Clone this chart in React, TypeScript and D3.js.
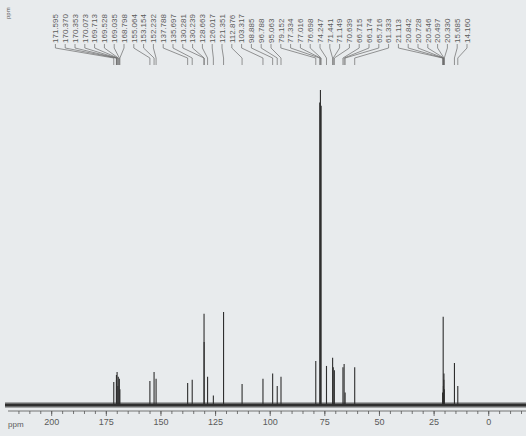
import React from "react";
import * as d3 from "d3";

// Peak positions (ppm) as labelled on the spectrum
const peakPpm = [
  171.595, 170.37, 170.353, 170.073, 169.713, 169.528, 169.035, 168.798,
  155.064, 153.154, 152.232, 137.788, 135.697, 130.281, 130.239, 128.663,
  126.017, 121.351, 112.876, 103.317, 98.885, 96.788, 95.063, 79.152,
  77.334, 77.016, 76.698, 74.247, 71.441, 71.149, 70.639, 66.715, 66.174,
  65.716, 61.333, 21.113, 20.842, 20.728, 20.546, 20.497, 20.33, 15.685, 14.16,
];
// Relative intensities (tallest = 100)
const peakIntensity = [
  7.3, 9.5, 8.0, 10.5, 6.0, 9.0, 8.3, 5.0,
  7.6, 10.5, 8.3, 7.0, 8.0, 29.0, 20.0, 9.0,
  3.0, 29.5, 6.7, 8.3, 10.0, 6.0, 9.0, 14.0,
  96, 100, 95, 12.4, 15.0, 12.0, 11.0, 12.0, 13.0,
  4.0, 12.0, 4.0, 28.0, 6.0, 8.0, 10.0, 5.0, 13.3, 6.0,
];
const majorTicks = [200, 175, 150, 125, 100, 75, 50, 25, 0];
const minorTicks = d3.range(-15, 220, 5);

const W = 526;
const H = 436;

export default function App() {
  const x = d3.scaleLinear().domain([220, -15]).range([8, 521.5]);
  const y = d3.scaleLinear().domain([0, 100]).range([405, 90]);
  const fmt = d3.format(".3f");

  // label layout: minimal displacement with min spacing (pool adjacent violators)
  const s = 9.8;
  const lo = 43;
  const hi = 467;
  const px = peakPpm.map((p) => x(p));
  const n = px.length;
  const t = px.map((v, i) => v - i * s);
  const blocks: { sum: number; cnt: number }[] = [];
  t.forEach((v) => {
    blocks.push({ sum: v, cnt: 1 });
    while (
      blocks.length > 1 &&
      blocks[blocks.length - 2].sum / blocks[blocks.length - 2].cnt >
        blocks[blocks.length - 1].sum / blocks[blocks.length - 1].cnt
    ) {
      const b = blocks.pop()!;
      blocks[blocks.length - 1].sum += b.sum;
      blocks[blocks.length - 1].cnt += b.cnt;
    }
  });
  const z: number[] = [];
  blocks.forEach((b) => {
    for (let k = 0; k < b.cnt; k++) z.push(b.sum / b.cnt);
  });
  const zMax = hi - (n - 1) * s;
  const labelX = z.map((v, i) => Math.min(Math.max(v, lo), zMax) + i * s);

  const textBottom = 43;
  const bg = "#e8ebed";
  const ink = "#2e2e2e";
  const textInk = "#5a5a5a";

  return (
    <svg
      width={W}
      height={H}
      style={{ position: "absolute", left: 0, top: 0 }}
      fontFamily="'Liberation Sans', Arial, sans-serif"
    >
      <rect x={0} y={0} width={W} height={H} fill={bg} />

      {/* top-left ppm */}
      <text
        transform={`translate(10,19) rotate(-90)`}
        fontSize={6}
        fill={textInk}
      >
        ppm
      </text>

      {/* peak labels */}
      {peakPpm.map((p, i) => (
        <g key={"lab" + i}>
          <text
            transform={`translate(${labelX[i] + 2.8},${textBottom}) rotate(-90)`}
            fontSize={8}
            fill={textInk}
          >
            {fmt(p)}
          </text>
          <path
            d={`M${labelX[i]},${textBottom + 1}V${textBottom + 5}L${px[i]},58V65`}
            fill="none"
            stroke="#6a6a6a"
            strokeWidth={0.7}
          />
        </g>
      ))}

      {/* baseline noise band */}
      <line x1={5} x2={W} y1={y(0)} y2={y(0)} stroke="#555" strokeWidth={6} opacity={0.45} />
      <line x1={5} x2={W} y1={y(0)} y2={y(0)} stroke={ink} strokeWidth={3} />

      {/* peaks */}
      {peakPpm.map((p, i) => (
        <line
          key={"pk" + i}
          x1={x(p)}
          x2={x(p)}
          y1={y(0)}
          y2={y(peakIntensity[i])}
          stroke={ink}
          strokeWidth={1.1}
        />
      ))}

      {/* axis */}
      <line x1={8} x2={W} y1={411} y2={411} stroke="#555" strokeWidth={0.8} />
      {minorTicks.map((v) => (
        <line key={"mi" + v} x1={x(v)} x2={x(v)} y1={411} y2={414} stroke="#555" strokeWidth={0.8} />
      ))}
      {majorTicks.map((v) => (
        <g key={"ma" + v}>
          <line x1={x(v)} x2={x(v)} y1={411} y2={416} stroke="#555" strokeWidth={0.8} />
          <text x={x(v)} y={425} fontSize={9} textAnchor="middle" fill={textInk}>
            {v}
          </text>
        </g>
      ))}
      <text x={8} y={427} fontSize={8} fill={textInk}>
        ppm
      </text>
    </svg>
  );
}
